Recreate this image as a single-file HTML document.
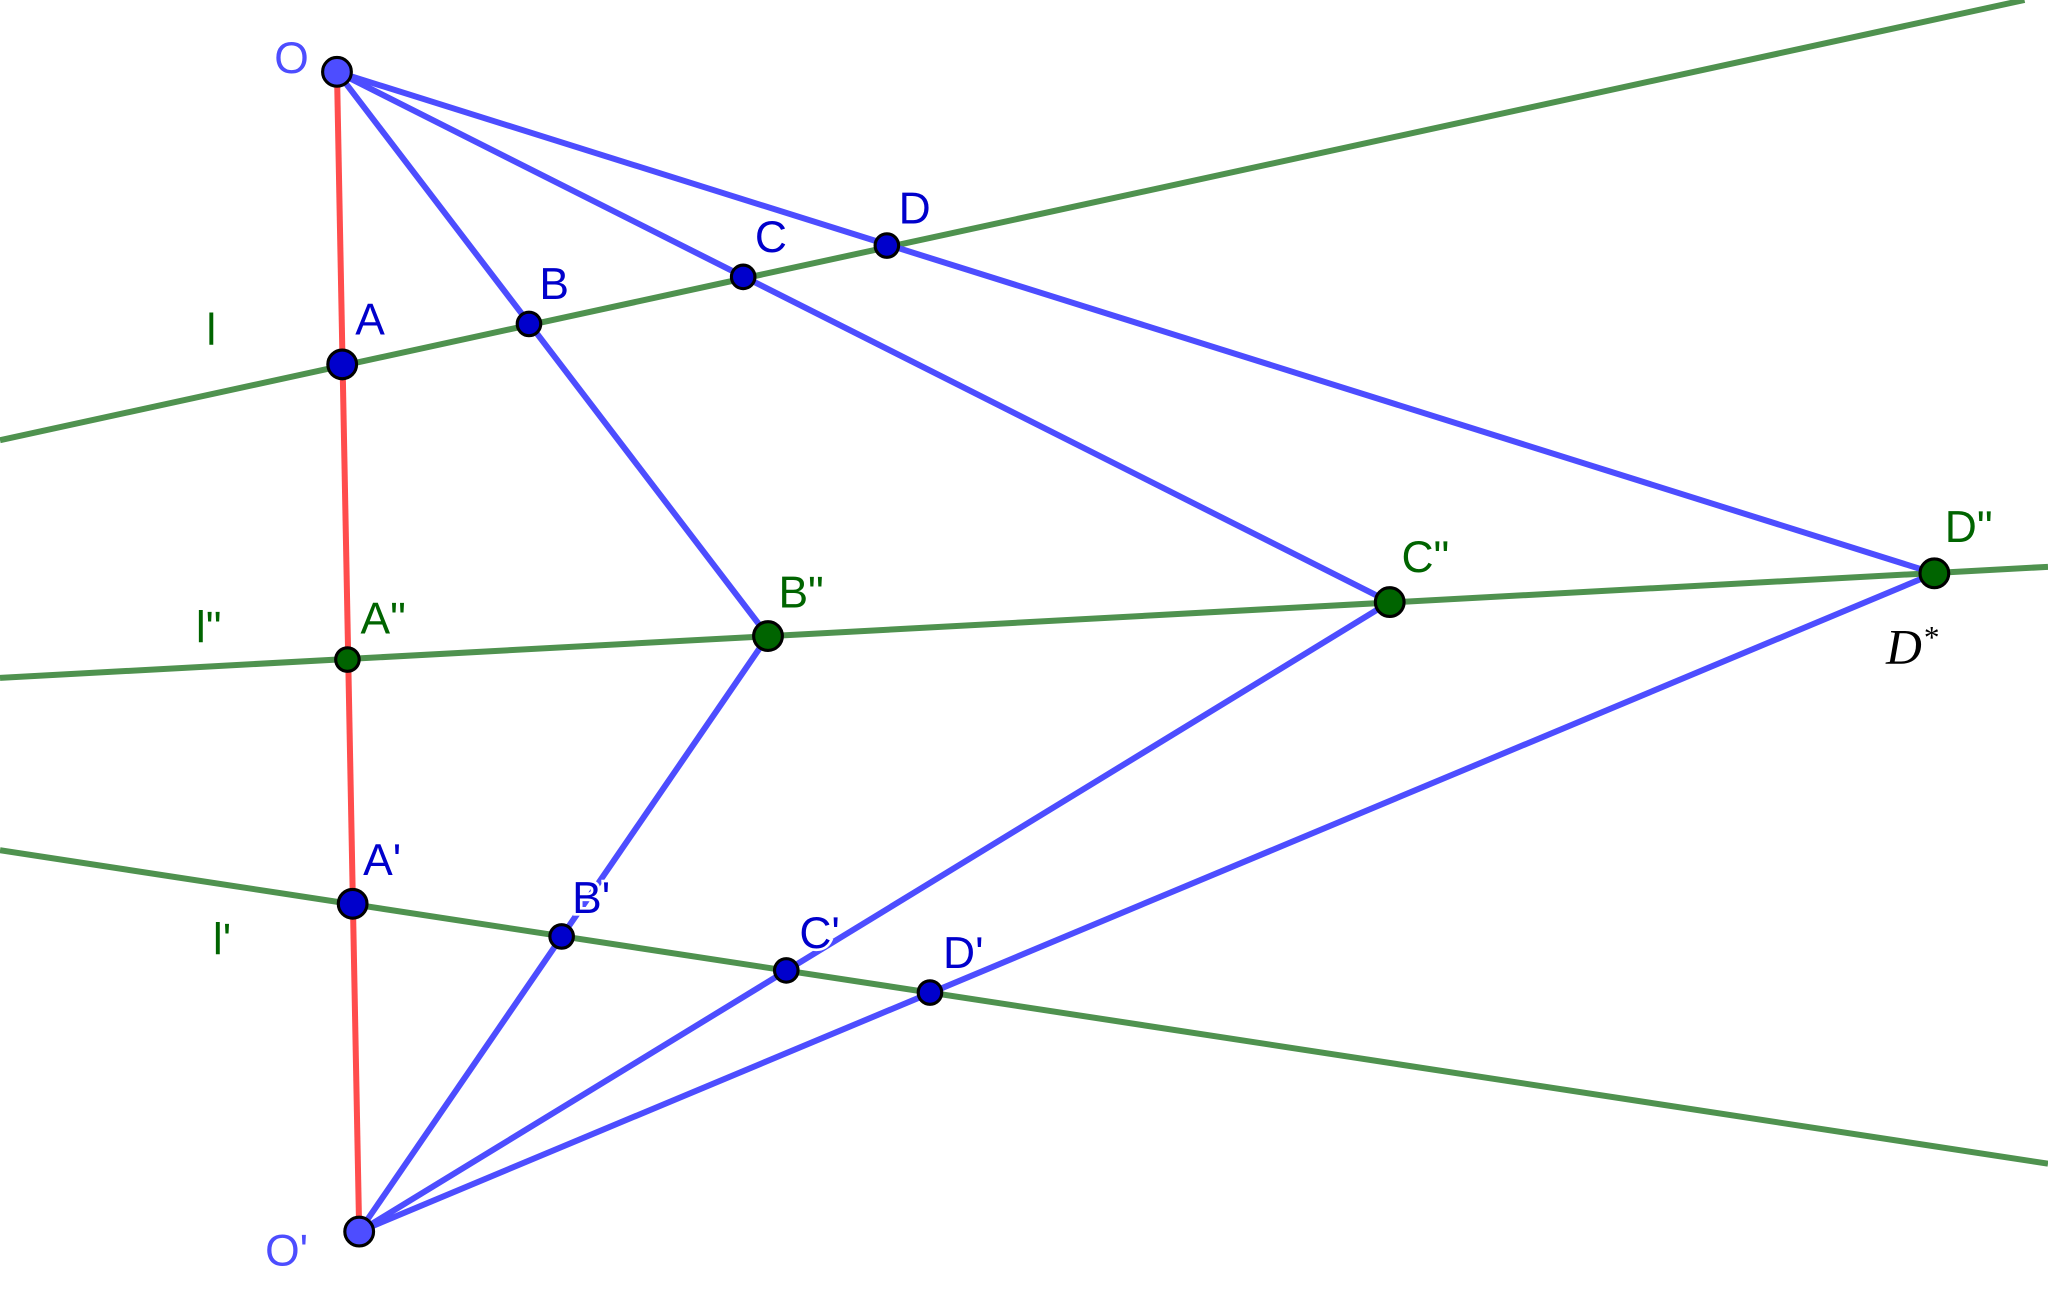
<!DOCTYPE html>
<html><head><meta charset="utf-8"><style>
html,body{margin:0;padding:0;background:#fff;}
svg{display:block;}
text{font-family:"Liberation Sans",sans-serif;font-size:34px;}
</style></head><body>
<svg width="2048" height="1305" viewBox="0 0 1568 999.2" preserveAspectRatio="none" xmlns="http://www.w3.org/2000/svg">
<rect width="1568" height="1000" fill="#fff"/>
<g stroke="#4f924f" stroke-width="4.6" fill="none">
<line x1="0" y1="337" x2="1550" y2="0"/>
<line x1="0" y1="519" x2="1568" y2="434"/>
<line x1="0" y1="651" x2="1568" y2="891"/>
</g>
<line x1="258" y1="55" x2="275" y2="943" stroke="#ff4d4d" stroke-width="4.6"/>
<g stroke="#4d4dff" stroke-width="4.6" fill="none">
<line x1="258" y1="55" x2="588" y2="487"/>
<line x1="588" y1="487" x2="275" y2="943"/>
<line x1="258" y1="55" x2="1064" y2="461"/>
<line x1="1064" y1="461" x2="275" y2="943"/>
<line x1="258" y1="55" x2="1481" y2="439"/>
<line x1="1481" y1="439" x2="275" y2="943"/>
</g>
<g stroke="#000" stroke-width="2.4">
<circle cx="258" cy="55" r="11" fill="#4d4dff"/>
<circle cx="275" cy="943" r="11" fill="#4d4dff"/>
<circle cx="262" cy="279" r="11" fill="#0000cc"/>
<circle cx="405" cy="248" r="9" fill="#0000cc"/>
<circle cx="569" cy="212" r="9" fill="#0000cc"/>
<circle cx="679" cy="188" r="9" fill="#0000cc"/>
<circle cx="270" cy="692" r="11" fill="#0000cc"/>
<circle cx="430" cy="717" r="9" fill="#0000cc"/>
<circle cx="602" cy="743" r="9" fill="#0000cc"/>
<circle cx="712" cy="760" r="9" fill="#0000cc"/>
<circle cx="266" cy="505" r="9" fill="#006400"/>
<circle cx="588" cy="487" r="11" fill="#006400"/>
<circle cx="1064" cy="461" r="11" fill="#006400"/>
<circle cx="1481" cy="439" r="11" fill="#006400"/>
</g>
<g fill="#0000cc">
<text x="272" y="256">A</text>
<text x="413" y="229">B</text>
<text x="578" y="193">C</text>
<text x="688" y="171">D</text>
<text x="278" y="670">A'</text>
<text x="438" y="699" stroke="#fff" stroke-width="4" paint-order="stroke">B'</text>
<text x="612" y="726" stroke="#fff" stroke-width="4" paint-order="stroke">C'</text>
<text x="722" y="741">D'</text>
</g>
<g fill="#4d4dff">
<text x="210" y="56">O</text>
<text x="203" y="969">O'</text>
</g>
<g fill="#006400">
<text x="158" y="264">l</text>
<text x="150" y="492">l"</text>
<text x="163" y="731">l'</text>
<text x="276" y="485">A"</text>
<text x="596" y="465">B"</text>
<text x="1073" y="438">C"</text>
<text x="1489" y="415">D"</text>
</g>
<text x="1444" y="508" style="font-family:'Liberation Serif',serif;font-style:italic;font-size:38px" fill="#000">D</text>
<text x="1473" y="496" style="font-family:'Liberation Serif',serif;font-size:24px" fill="#000">*</text>
</svg>
</body></html>
